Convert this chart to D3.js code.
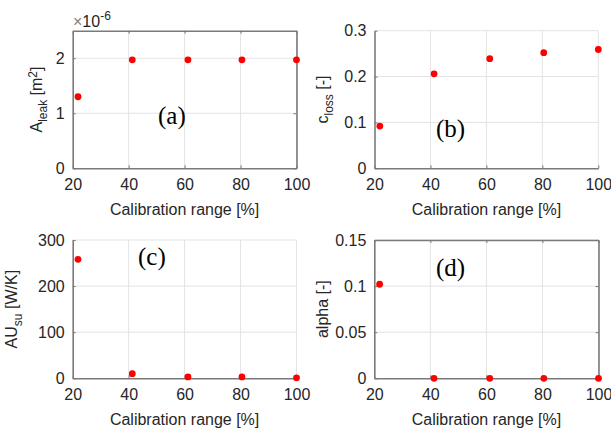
<!DOCTYPE html>
<html>
<head>
<meta charset="utf-8">
<script src="https://cdn.jsdelivr.net/npm/d3@7"></script>
<style>
  body { margin: 0; background: #fff; }
  svg { display: block; font-family: "Liberation Sans", Arial, Helvetica, sans-serif; }
</style>
</head>
<body>
<svg id="chart" width="611" height="429"></svg>
<script>
// データ
var calRange = [21.9, 41.3, 61.2, 80.5, 100];
var aLeak = [1.30e-6, 1.97e-6, 1.97e-6, 1.97e-6, 1.97e-6];
var cLoss = [0.092, 0.206, 0.239, 0.252, 0.259];
var auSu = [258, 10, 3, 3, 1];
var alpha = [0.102, 0, 0, 0, 0];
var xTicks = [20, 40, 60, 80, 100];

var panels = [
  { id: "a", values: aLeak, yMax: 2.5e-6, yTicks: [0, 1e-6, 2e-6], box: true,
    fmt: (v) => String(Math.round(v * 1e6)),
    label: [["A", 0], ["leak", 1], [" [m", 0], ["2", -1], ["]", 0]],
    rect: [72.7, 296.5, 30.7, 168.3], labelX: 41.5, tag: [158, 124] },
  { id: "b", values: cLoss, yMax: 0.3, yTicks: [0, 0.1, 0.2, 0.3], box: false,
    fmt: d3.format("~g"),
    label: [["c", 0], ["loss", 1], [" [-]", 0]],
    rect: [374.5, 598.3, 30.7, 168.3], labelX: 327.5, tag: [436, 137] },
  { id: "c", values: auSu, yMax: 300, yTicks: [0, 100, 200, 300], box: false,
    fmt: d3.format("~g"),
    label: [["AU", 0], ["su", 1], [" [W/K]", 0]],
    rect: [72.7, 296.5, 240, 378.3], labelX: 16.7, tag: [138, 265] },
  { id: "d", values: alpha, yMax: 0.15, yTicks: [0, 0.05, 0.1, 0.15], box: true,
    fmt: d3.format("~g"),
    label: [["alpha [-]", 0]],
    rect: [374.3, 598.5, 240, 378.3], labelX: 327.5, tag: [436, 276] }
];

var svg = d3.select("#chart");
var axisColor = "#7a7a7a";
var textColor = "#262626";
var gridColor = "#e3e3e3";

panels.forEach((p) => {
  var x = d3.scaleLinear().domain([20, 100]).range([p.rect[0], p.rect[1]]);
  var y = d3.scaleLinear().domain([0, p.yMax]).range([p.rect[3], p.rect[2]]);
  var g = svg.append("g").attr("class", `panel-${p.id}`);

  // グリッド
  g.selectAll(".gx").data(xTicks.slice(1)).enter().append("line")
    .attr("x1", (d) => x(d)).attr("x2", (d) => x(d))
    .attr("y1", y(0)).attr("y2", y(p.yMax))
    .attr("stroke", gridColor).attr("stroke-width", 1);
  g.selectAll(".gy").data(p.yTicks.slice(1)).enter().append("line")
    .attr("x1", x(20)).attr("x2", x(100))
    .attr("y1", (d) => y(d)).attr("y2", (d) => y(d))
    .attr("stroke", gridColor).attr("stroke-width", 1);

  // 軸
  var xAxis = g.append("g").attr("transform", `translate(0,${y(0)})`)
    .call(d3.axisBottom(x).tickValues(xTicks).tickSizeInner(-3).tickSizeOuter(0).tickPadding(10));
  var yAxis = g.append("g").attr("transform", `translate(${x(20)},0)`)
    .call(d3.axisLeft(y).tickValues(p.yTicks).tickFormat(p.fmt).tickSizeInner(-3).tickSizeOuter(0).tickPadding(8));
  if (p.box) {
    g.append("g").attr("transform", `translate(0,${y(p.yMax)})`)
      .call(d3.axisTop(x).tickValues(xTicks).tickFormat("").tickSizeInner(-3).tickSizeOuter(0));
    g.append("g").attr("transform", `translate(${x(100)},0)`)
      .call(d3.axisRight(y).tickValues(p.yTicks).tickFormat("").tickSizeInner(-3).tickSizeOuter(0));
  }
  g.selectAll(".domain").attr("stroke", axisColor).attr("stroke-width", 1.6);
  g.selectAll(".tick line").attr("stroke", axisColor).attr("stroke-width", 1);
  g.selectAll(".tick text").attr("fill", textColor).attr("font-size", 16)
    .attr("font-family", "Liberation Sans, Arial, sans-serif");
  xAxis.selectAll(".tick text").attr("dy", "0.71em");

  // 軸ラベル
  g.append("text")
    .attr("x", (p.rect[0] + p.rect[1]) / 2).attr("y", p.rect[3] + 46.5)
    .attr("text-anchor", "middle").attr("font-size", 16).attr("fill", textColor)
    .text("Calibration range [%]");
  var yl = g.append("text")
    .attr("transform", `translate(${p.labelX},${(p.rect[2] + p.rect[3]) / 2}) rotate(-90)`)
    .attr("text-anchor", "middle").attr("font-size", 16).attr("fill", textColor);
  var prev = 0;
  p.label.forEach((part) => {
    var shift = part[1] * 5;
    yl.append("tspan").attr("dy", shift - prev)
      .attr("font-size", part[1] === 0 ? 16 : 12).text(part[0]);
    prev = shift;
  });

  // 点
  g.selectAll("circle").data(p.values).enter().append("circle")
    .attr("cx", (d, i) => x(calRange[i])).attr("cy", (d) => y(d))
    .attr("r", 3.4).attr("fill", "#ff0000");

  // 注記
  g.append("text").attr("x", p.tag[0]).attr("y", p.tag[1])
    .attr("font-family", "Liberation Serif, Times New Roman, serif")
    .attr("font-size", 25).attr("fill", "#000").text(`(${p.id})`);
});

// 指数表示
var expo = svg.append("text").attr("x", 73).attr("y", 26.5)
  .attr("font-size", 16).attr("fill", textColor);
expo.append("tspan").attr("fill", "#808080").text("\u00d7");
expo.append("tspan").text("10");
expo.append("tspan").attr("dy", -7).attr("font-size", 12).text("-6");
</script>
</body>
</html>
